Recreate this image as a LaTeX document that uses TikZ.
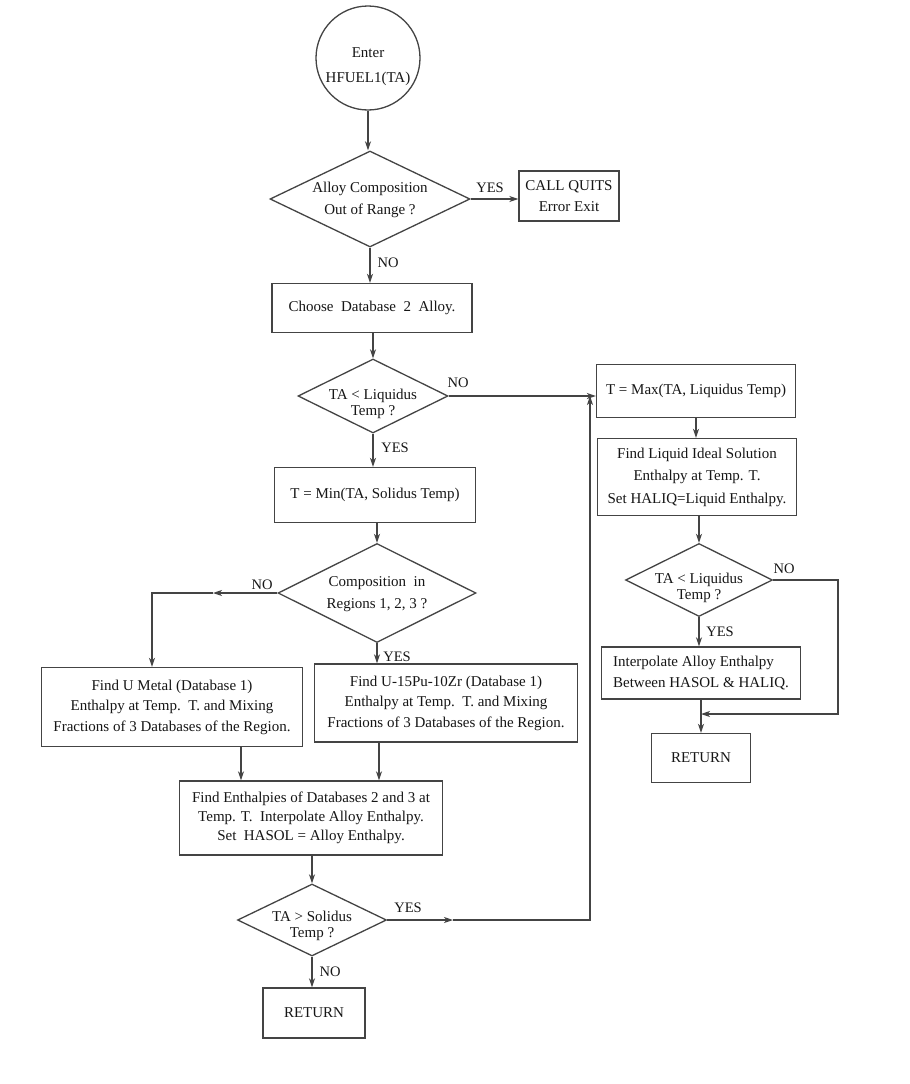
\documentclass[tikz,border=0pt]{standalone}
\usepackage{fontspec}
\setmainfont{Liberation Serif}
\usetikzlibrary{shapes.geometric,arrows.meta}
\definecolor{edge}{HTML}{444444}
\definecolor{ink}{HTML}{161616}
\begin{document}
\begin{tikzpicture}[x=1pt,y=-1pt,
  txt/.style={font=\fontsize{15}{20.5}\selectfont, text=ink, align=center},
  box/.style={draw=edge, line width=1.3pt, inner sep=0pt, txt},
  dia/.style={draw=edge, line width=1.3pt, diamond, inner sep=0pt},
  dtext/.style={font=\fontsize{15}{16}\selectfont, text=ink, align=center, inner sep=0pt},
  dtextw/.style={font=\fontsize{15}{22}\selectfont, text=ink, align=center, inner sep=0pt},
  lbl/.style={font=\fontsize{14.5}{16}\selectfont, text=ink, inner sep=0pt},
  arr/.style={draw=edge, line width=1.3pt, -{Stealth[length=9pt,width=6pt,inset=2.5pt]}},
  ln/.style={draw=edge, line width=1.3pt}]
\fill[white] (0,0) rectangle (910,1084);
\useasboundingbox (0,0) rectangle (910,1084);

% start
\node[circle, draw=edge, line width=1.3pt, minimum size=104pt, inner sep=0pt] (c0) at (368,58) {};
\node[txt, font=\fontsize{15}{25}\selectfont] (c0t) at (368,67) {Enter\\HFUEL1(TA)};

% first decision
\node[dia, minimum width=200pt, minimum height=96pt] (d1) at (370,199) {};
\node[dtextw] (d1t) at (370,200) {Alloy Composition\\Out of Range ?};
\node[box, minimum width=100pt, minimum height=50pt] (q) at (569,196) {CALL QUITS\\Error Exit};

\node[box, minimum width=200pt, minimum height=49pt] (b1) at (372,308) {Choose\ \ Database\ \ 2\ \ Alloy.};

\node[dia, minimum width=150pt, minimum height=74pt] (d2) at (373,396) {};
\node[dtext] (d2t) at (373,404) {TA < Liquidus\\Temp ?};

\node[box, minimum width=201pt, minimum height=55pt] (b2) at (375,495) {T = Min(TA, Solidus Temp)};

\node[dia, minimum width=198pt, minimum height=99pt] (d3) at (377,593) {};
\node[dtextw] (d3t) at (377,594) {Composition\ \ in\\Regions 1, 2, 3 ?};

\node[box, minimum width=261pt, minimum height=79pt] (b3) at (172,707) {Find U Metal (Database 1)\\Enthalpy at Temp.\ \ T. and Mixing\\Fractions of 3 Databases of the Region.};
\node[box, minimum width=263pt, minimum height=78pt] (b4) at (446,703) {Find U-15Pu-10Zr (Database 1)\\Enthalpy at Temp.\ \ T. and Mixing\\Fractions of 3 Databases of the Region.};

\node[box, minimum width=263pt, minimum height=74pt, font=\fontsize{15}{19}\selectfont] (b5) at (311,818) {Find Enthalpies of Databases 2 and 3 at\\Temp. T.\ \ Interpolate Alloy Enthalpy.\\Set\ \ HASOL = Alloy Enthalpy.};

\node[dia, minimum width=149pt, minimum height=72pt] (d5) at (312,920) {};
\node[dtext] (d5t) at (312,926) {TA > Solidus\\Temp ?};

\node[box, minimum width=102pt, minimum height=50pt] (r1) at (314,1013) {RETURN};

% right column
\node[box, minimum width=199pt, minimum height=53pt] (m1) at (696,391) {T = Max(TA, Liquidus Temp)};
\node[box, minimum width=199pt, minimum height=77pt, font=\fontsize{15}{22.5}\selectfont] (m2) at (697,477) {Find Liquid Ideal Solution\\Enthalpy at Temp. T.\\Set HALIQ=Liquid Enthalpy.};
\node[dia, minimum width=147pt, minimum height=73pt] (d4) at (699,580) {};
\node[dtext] (d4t) at (699,588) {TA < Liquidus\\Temp ?};
\node[box, minimum width=199pt, minimum height=52pt, align=left] (m3) at (701,673) {Interpolate Alloy Enthalpy\\Between HASOL \& HALIQ.};
\node[box, minimum width=99pt, minimum height=49pt] (r2) at (701,758) {RETURN};

% labels
\node[lbl] (l1) at (490,188) {YES};
\node[lbl] (l2) at (388,263) {NO};
\node[lbl] (l3) at (458,383) {NO};
\node[lbl] (l4) at (395,448) {YES};
\node[lbl] (l5) at (262,585) {NO};
\node[lbl] (l6) at (397,657) {YES};
\node[lbl] (l7) at (784,569) {NO};
\node[lbl] (l8) at (720,632) {YES};
\node[lbl] (l9) at (408,908) {YES};
\node[lbl] (l10) at (330,972) {NO};

% helper coordinates
\coordinate (na) at (213,593);
\coordinate (nb) at (152,593);
\coordinate (p1) at (241,0);
\coordinate (p2) at (379,0);
\coordinate (ya) at (453,920);
\coordinate (yb) at (590,920);
\coordinate (jn) at (590,396);
\coordinate (la) at (838,580);
\coordinate (lb) at (838,714);

% connectors
\draw[arr] (c0.south) -- (c0.south |- d1.north);
\draw[arr] (d1.east) -- (d1.east -| q.west);
\draw[arr] (d1.south) -- (d1.south |- b1.north);
\draw[arr] (d2.north |- b1.south) -- (d2.north);
\draw[arr] (d2.east) -- (d2.east -| m1.west);
\draw[arr] (d2.south) -- (d2.south |- b2.north);
\draw[arr] (d3.north |- b2.south) -- (d3.north);
\draw[arr] (d3.west) -- (na);
\draw[arr] (na) -- (nb) -- (nb |- b3.north);
\draw[arr] (d3.south) -- (d3.south |- b4.north);
\draw[arr] (p1 |- b3.south) -- (p1 |- b5.north);
\draw[arr] (p2 |- b4.south) -- (p2 |- b5.north);
\draw[arr] (d5.north |- b5.south) -- (d5.north);
\draw[arr] (d5.east) -- (ya);
\draw[arr] (ya) -- (yb) -- (jn);
\draw[arr] (d5.south) -- (d5.south |- r1.north);
\draw[arr] (m1.south) -- (m1.south |- m2.north);
\draw[arr] (d4.north |- m2.south) -- (d4.north);
\draw[arr] (d4.south) -- (d4.south |- m3.north);
\draw[arr] (r2.north |- m3.south) -- (r2.north);
\draw[arr] (d4.east) -- (la) -- (lb) -- (lb -| r2.north);
\end{tikzpicture}
\end{document}
